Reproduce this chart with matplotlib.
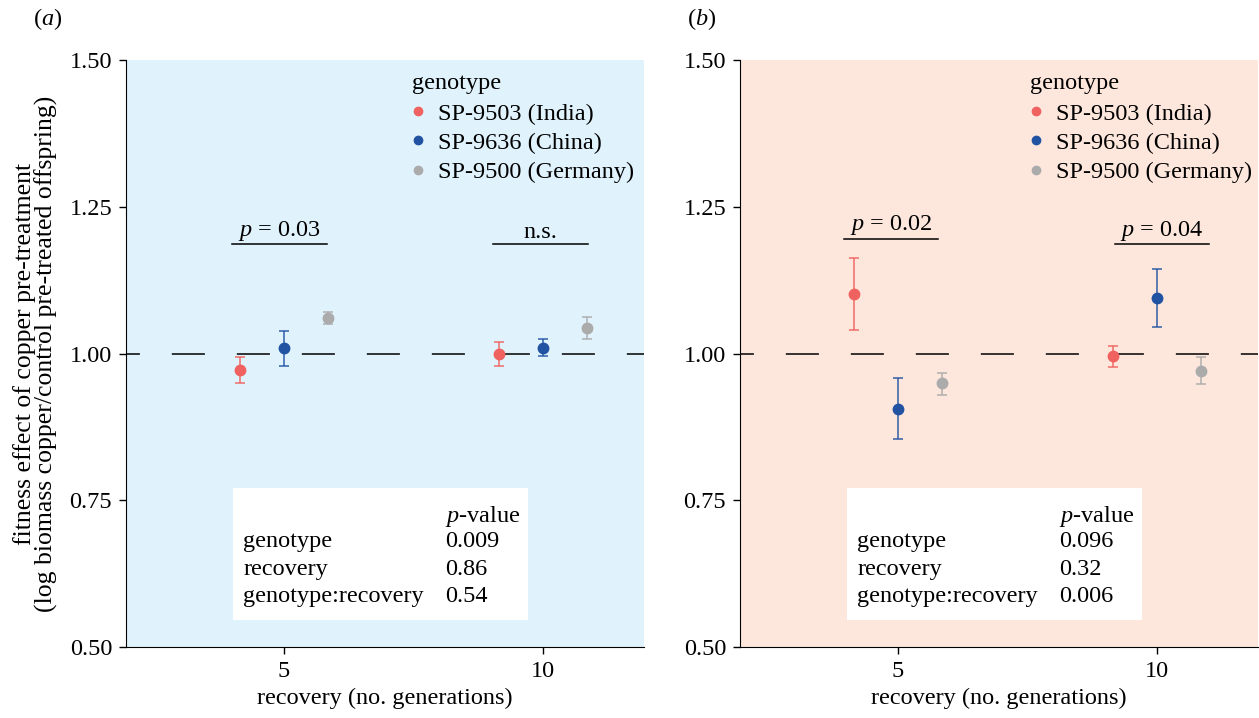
import matplotlib.pyplot as plt
from matplotlib.lines import Line2D
from matplotlib.patches import Rectangle

recovery = [5, 10]
genotypes = ["SP-9503 (India)", "SP-9636 (China)", "SP-9500 (Germany)"]
colors = ["#F0625F", "#2253A3", "#ABABAB"]

# panel (a): mean and interval per genotype, at 5 and 10 generations
a_mean = [[0.972, 1.000], [1.009, 1.009], [1.061, 1.043]]
a_low = [[0.950, 0.979], [0.979, 0.995], [1.051, 1.024]]
a_high = [[0.994, 1.020], [1.039, 1.024], [1.071, 1.063]]

# panel (b)
b_mean = [[1.101, 0.995], [0.905, 1.095], [0.949, 0.971]]
b_low = [[1.040, 0.977], [0.854, 1.045], [0.929, 0.948]]
b_high = [[1.163, 1.013], [0.958, 1.144], [0.967, 0.994]]

terms = ["genotype", "recovery", "genotype:recovery"]
a_pvals = ["0.009", "0.86", "0.54"]
b_pvals = ["0.096", "0.32", "0.006"]

a_sig = ["$p$ = 0.03", "n.s."]
b_sig = ["$p$ = 0.02", "$p$ = 0.04"]

FS = 17.5
plt.rcParams["font.family"] = "Liberation Serif"
plt.rcParams["font.size"] = FS
plt.rcParams["mathtext.fontset"] = "custom"
plt.rcParams["mathtext.rm"] = "Liberation Serif"
plt.rcParams["mathtext.it"] = "Liberation Serif:italic"
plt.rcParams["lines.scale_dashes"] = False


def draw_panel(ax, mean, low, high, sig, sig_spans, sig_y, pvals, bg, leg_x):
    ax.set_facecolor(bg)
    ax.set_xlim(1.95, 11.95)
    ax.set_ylim(0.5, 1.5)
    ax.axhline(1.0, color="black", linewidth=1.1, linestyle=(13.8, (23.8, 23.0)), zorder=1)

    dodge = [-0.85, 0.0, 0.85]
    handles = []
    for g in range(3):
        xs = [r + dodge[g] for r in recovery]
        yerr = [[m - l for m, l in zip(mean[g], low[g])],
                [h - m for m, h in zip(mean[g], high[g])]]
        ax.errorbar(xs, mean[g], yerr=yerr, fmt="none", ecolor=colors[g],
                    elinewidth=1.2, capsize=3.5, capthick=1.2, alpha=0.85, zorder=2)
        ax.plot(xs, mean[g], "o", color=colors[g], markersize=7.5, zorder=3)
        handles.append(Line2D([], [], marker="o", linestyle="none",
                              color=colors[g], markersize=6))

    for (x0, x1), y, label in zip(sig_spans, sig_y, sig):
        ax.plot([x0, x1], [y, y], color="black", linewidth=1.1)
        ax.text((x0 + x1) / 2, y + 0.003, label, ha="center", va="bottom", fontsize=FS)

    leg = ax.legend(handles, genotypes, title="genotype", loc="upper left",
                    bbox_to_anchor=(leg_x, 0.998), frameon=False, borderpad=0,
                    handlelength=0.45, handletextpad=0.6, labelspacing=0.30,
                    alignment="left", fontsize=FS, title_fontsize=FS)
    leg._legend_box.sep = 6

    ax.add_patch(Rectangle((0.207, 0.046), 0.569, 0.225, transform=ax.transAxes,
                           facecolor="white", edgecolor="none", zorder=4))
    ax.text(0.616, 0.222, "$p$-value", transform=ax.transAxes, va="center", zorder=5)
    for i, (term, pv) in enumerate(zip(terms, pvals)):
        y = 0.179 - i * 0.0465
        ax.text(0.226, y, term, transform=ax.transAxes, va="center", zorder=5)
        ax.text(0.616, y, pv, transform=ax.transAxes, va="center", zorder=5)

    for side in ["top", "right"]:
        ax.spines[side].set_visible(False)
    ax.set_xticks(recovery)
    ax.set_xticklabels([str(r) for r in recovery])
    ax.set_yticks([0.5, 0.75, 1.0, 1.25, 1.5])
    ax.set_yticklabels(["0.50", "0.75", "1.00", "1.25", "1.50"])
    ax.tick_params(length=5, width=1, labelsize=FS, pad=5)
    ax.set_xlabel("recovery (no. generations)", fontsize=FS, labelpad=4)


fig = plt.figure(figsize=(12.59, 7.18), dpi=100)
ax1 = fig.add_axes([0.1001, 0.0989, 0.4114, 0.8175])
ax2 = fig.add_axes([0.5878, 0.0989, 0.4114, 0.8175])

draw_panel(ax1, a_mean, a_low, a_high, a_sig, [(4.0, 5.83), (9.03, 10.87)],
           [1.186, 1.186], a_pvals, "#E0F2FC", 0.529)
draw_panel(ax2, b_mean, b_low, b_high, b_sig, [(3.96, 5.77), (9.19, 11.0)],
           [1.195, 1.186], b_pvals, "#FDE7DD", 0.537)

ax1.set_ylabel("fitness effect of copper pre-treatment\n"
               "(log biomass copper/control pre-treated offspring)",
               fontsize=18.5, labelpad=8, linespacing=0.93)

fig.text(0.026, 0.974, "($a$)", ha="left", va="center", fontsize=FS)
fig.text(0.546, 0.974, "($b$)", ha="left", va="center", fontsize=FS)

fig.savefig("out.png", dpi=100)
